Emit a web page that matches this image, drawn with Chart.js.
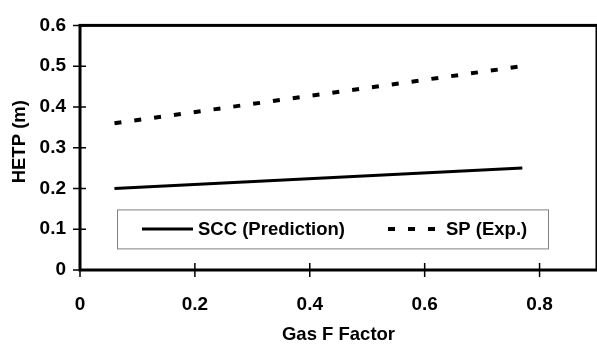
<!DOCTYPE html>
<html>
<head>
<meta charset="utf-8">
<script src="https://cdn.jsdelivr.net/npm/chart.js@4.4.1/dist/chart.umd.min.js"></script>
<style>
  body { margin: 0; background: #fff; }
</style>
</head>
<body>
<canvas id="hetpChart" width="597" height="344"></canvas>
<script>
var gasFactor = [0.06, 0.77];
var sccPrediction = [0.20, 0.25];
var spExp = [0.36, 0.50];
var seriesNames = ['SCC (Prediction)', 'SP (Exp.)'];
var xTitle = 'Gas F Factor';
var yTitle = 'HETP (m)';

var FONT = "'Liberation Sans', Arial, sans-serif";

function toPoints(xs, ys) {
  return xs.map(function (x, i) { return { x: x, y: ys[i] }; });
}

// Excel style: heavy frame, ticks crossing the axes, boxed legend inside the plot
var excelFrame = {
  id: 'excelFrame',
  afterDatasetsDraw: function (chart) {
    var c = chart.ctx, a = chart.chartArea;
    c.save();
    // legend box
    var bx = a.left + 37, by = a.top + 184, bw = 431, bh = 39;
    c.fillStyle = '#fff';
    c.fillRect(bx, by, bw, bh);
    c.strokeStyle = '#808080';
    c.lineWidth = 1;
    c.strokeRect(bx + 0.5, by + 0.5, bw, bh);
    var cy = by + bh / 2;
    var items = [{ x0: bx + 25, x1: bx + 76, tx: bx + 81 }, { x0: bx + 271, x1: bx + 318, tx: bx + 329 }];
    c.font = 'bold 18.5px ' + FONT;
    c.textBaseline = 'middle';
    c.textAlign = 'left';
    chart.data.datasets.forEach(function (ds, i) {
      var it = items[i];
      c.strokeStyle = '#000';
      c.lineWidth = ds.borderWidth;
      c.setLineDash(ds.borderDash || []);
      c.beginPath();
      c.moveTo(it.x0, cy);
      c.lineTo(it.x1, cy);
      c.stroke();
      c.setLineDash([]);
      c.fillStyle = '#000';
      c.fillText(ds.label, it.tx, cy + 1);
    });
    c.restore();
  },
  afterDraw: function (chart) {
    var c = chart.ctx, a = chart.chartArea;
    var xs = chart.scales.x, ys = chart.scales.y;
    c.save();
    c.strokeStyle = '#000';
    c.lineWidth = 1.5;
    c.beginPath();
    ys.ticks.forEach(function (t) {
      var py = ys.getPixelForValue(t.value);
      c.moveTo(a.left - 7, py); c.lineTo(a.left + 6, py);
    });
    xs.ticks.forEach(function (t) {
      var px = xs.getPixelForValue(t.value);
      c.moveTo(px, a.bottom - 7); c.lineTo(px, a.bottom + 7);
    });
    c.stroke();
    c.lineWidth = 3;
    c.strokeRect(a.left, a.top, a.right - a.left, a.bottom - a.top);
    // y axis title, sits a little above the plot centre like the original
    c.translate(20, (a.top + a.bottom) / 2 - 6);
    c.rotate(-Math.PI / 2);
    c.font = 'bold 18.5px ' + FONT;
    c.fillStyle = '#000';
    c.textAlign = 'center';
    c.textBaseline = 'middle';
    c.fillText(yTitle, 0, 0);
    c.restore();
  }
};

var ctx = document.getElementById('hetpChart').getContext('2d');
var chart = new Chart(ctx, {
  type: 'line',
  data: {
    datasets: [{
      label: seriesNames[0],
      data: toPoints(gasFactor, sccPrediction),
      borderColor: '#000',
      borderWidth: 3,
      pointRadius: 0,
      fill: false
    }, {
      label: seriesNames[1],
      data: toPoints(gasFactor, spExp),
      borderColor: '#000',
      borderWidth: 4,
      borderDash: [7, 13],
      borderCapStyle: 'butt',
      pointRadius: 0,
      fill: false
    }]
  },
  options: {
    responsive: false,
    animation: false,
    layout: { padding: { top: 21, right: 0, left: 0, bottom: 0 } },
    plugins: {
      legend: { display: false },
      tooltip: { enabled: false }
    },
    elements: { line: { tension: 0 } },
    scales: {
      x: {
        type: 'linear',
        min: 0,
        max: 0.9,
        afterFit: function (s) { s.height = 74; },
        grid: { display: false, drawTicks: false },
        border: { display: false },
        ticks: {
          stepSize: 0.2,
          includeBounds: false,
          padding: 23,
          maxRotation: 0,
          color: '#000',
          font: { family: FONT, size: 19, weight: 'bold' }
        },
        title: {
          display: true,
          text: xTitle,
          color: '#000',
          padding: { top: 0, bottom: 0 },
          font: { family: FONT, size: 18.5, weight: 'bold', lineHeight: 1 }
        }
      },
      y: {
        min: 0,
        max: 0.6,
        afterFit: function (s) { s.width = 80; },
        grid: { display: false, drawTicks: false },
        border: { display: false },
        ticks: {
          stepSize: 0.1,
          includeBounds: false,
          padding: 14,
          color: '#000',
          font: { family: FONT, size: 19, weight: 'bold' }
        },
        title: { display: false }
      }
    }
  },
  plugins: [excelFrame]
});
</script>
</body>
</html>
